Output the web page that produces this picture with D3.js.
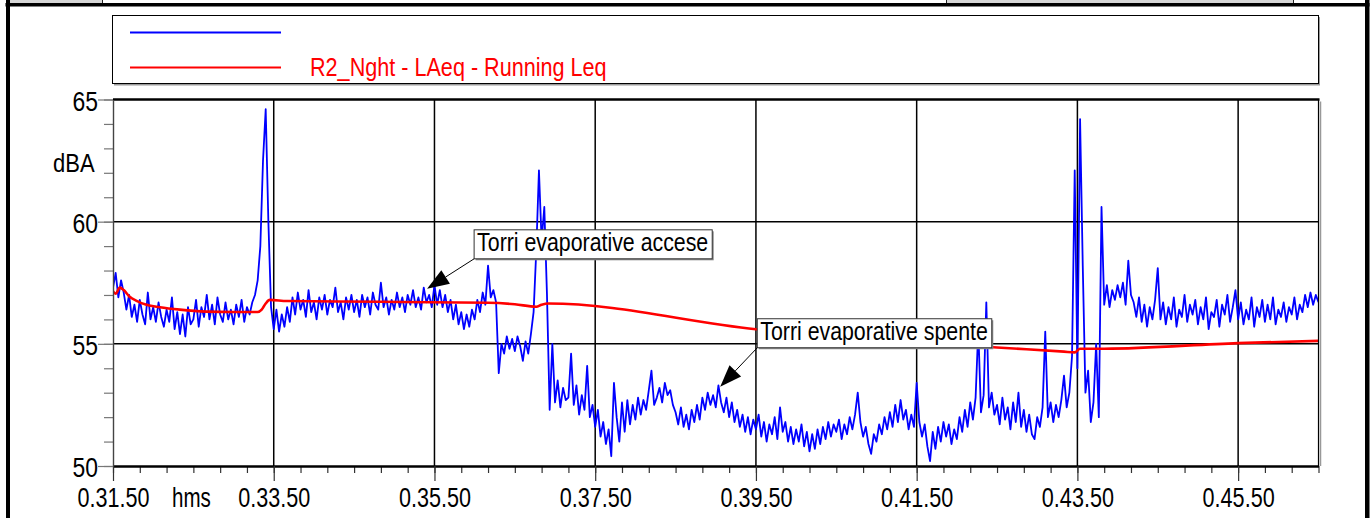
<!DOCTYPE html>
<html><head><meta charset="utf-8">
<script src="https://cdn.jsdelivr.net/npm/d3@7"></script>
<style>
html,body{margin:0;padding:0;background:#fff;overflow:hidden;}
svg{display:block;}
text{font-family:"Liberation Sans",Arial,sans-serif;}
</style></head><body>
<svg id="chart" width="1372" height="518"></svg>
<script>
// ---------------- DATA ----------------
// time axis in seconds of day: 0.31.50 -> 0.46.50
const xStart = 1910, xEnd = 2810;
const xTickValues = [1910, 2030, 2150, 2270, 2390, 2510, 2630, 2750];
const xTickLabels = ["0.31.50", "0.33.50", "0.35.50", "0.37.50", "0.39.50", "0.41.50", "0.43.50", "0.45.50"];
const xUnitLabel = "hms";
const yTickValues = [50, 55, 60, 65];
const yTickLabels = ["50", "55", "60", "65"];
const yUnitLabel = "dBA";
const seriesNames = ["", "R2_Nght - LAeq - Running Leq"];

// blue series: LAeq short samples, one value every 2 s starting at xStart
const blueStep = 2;
const blueValues = [
  // 0.31.50
  57.3,57.9,56.9,57.6,57.1,56.4,57.0,56.1,56.6,55.9,56.8,56.2,55.8,57.1,56.0,56.5,55.9,56.7,56.1,55.7,56.4,55.9,56.9,55.6,56.3,55.4,56.2,55.3,56.5,55.8,
  // 0.32.50
  56.0,56.8,55.7,56.5,56.1,57.0,56.0,56.6,55.8,56.9,56.2,55.9,56.7,56.0,56.4,55.8,56.6,56.1,56.8,55.9,56.5,56.2,56.7,57.0,57.6,59.0,62.5,64.6,60.0,56.5,
  // 0.33.50
  55.6,56.4,55.5,56.2,55.7,56.5,55.9,56.9,56.2,57.1,56.4,56.8,56.1,57.2,56.3,56.7,56.0,56.9,56.4,57.0,56.2,56.8,56.5,57.3,56.3,56.7,56.0,56.9,56.4,57.0,
  // 0.34.50
  56.3,56.8,56.1,57.0,56.5,56.9,56.2,57.1,56.6,56.4,57.5,56.5,56.9,56.2,56.8,56.4,57.1,56.5,56.9,56.3,57.0,56.6,57.2,56.5,56.9,56.4,57.3,56.7,57.0,56.5,
  // 0.35.50
  57.4,56.6,57.2,56.5,57.0,56.3,56.8,56.0,56.6,55.8,56.3,55.6,56.2,55.7,56.4,56.0,56.8,56.3,57.1,56.6,58.2,56.9,57.2,56.7,53.8,55.0,54.6,55.3,54.8,55.2,
  // 0.36.50
  54.7,55.3,54.9,54.3,55.1,54.6,55.4,56.3,58.8,62.1,59.2,60.6,57.0,52.3,55.0,52.6,53.5,52.4,53.2,52.7,52.8,54.6,52.5,53.3,52.1,52.9,52.3,54.1,52.0,52.5,
  // 0.37.50
  51.6,52.3,51.2,51.8,50.9,51.5,50.4,53.4,52.0,51.0,52.6,51.4,52.7,51.7,52.5,51.9,52.8,52.1,52.7,52.3,53.1,53.9,52.5,52.8,53.2,52.6,53.4,52.9,53.1,52.5,
  // 0.38.50
  52.2,51.7,52.4,51.6,52.1,51.5,52.3,51.8,52.5,51.9,52.8,52.3,53.0,52.5,52.9,52.4,53.3,52.6,52.2,52.8,52.0,52.6,51.8,52.3,51.6,52.1,51.4,52.0,51.3,51.9,
  // 0.39.50
  51.5,52.1,51.2,51.8,51.0,51.7,51.3,52.0,51.1,52.4,51.4,51.8,51.0,51.6,50.9,51.5,51.0,51.7,50.8,51.4,50.6,51.3,50.7,51.5,50.9,51.6,51.1,51.8,51.2,51.7,
  // 0.40.50
  51.4,51.9,51.1,51.7,51.3,52.0,51.5,52.1,53.0,51.8,51.2,51.6,50.9,50.5,51.3,51.0,51.7,51.3,52.0,51.5,52.2,51.6,52.5,51.8,52.7,51.9,52.3,51.5,52.1,51.6,
  // 0.41.50
  53.4,51.8,51.2,51.7,50.8,50.2,51.4,50.7,51.6,51.0,51.8,51.2,51.7,50.9,51.5,51.1,52.0,51.4,52.3,51.6,52.6,51.9,52.8,55.6,52.2,52.9,56.7,52.4,53.0,52.1,
  // 0.42.50
  52.5,51.7,52.8,51.9,52.4,51.5,52.6,51.8,53.0,51.6,52.3,51.4,52.1,51.3,51.1,52.0,51.6,52.4,55.5,52.0,52.6,51.8,52.5,52.0,52.7,53.7,52.4,53.0,54.5,62.1,
  // 0.43.50
  54.0,64.2,58.2,53.0,53.9,51.8,52.6,55.0,52.0,60.6,56.6,57.4,56.5,57.2,56.8,57.4,56.9,57.5,56.6,58.4,57.0,56.7,56.1,56.9,55.9,56.6,55.7,56.5,56.0,56.8,
  // 0.44.50
  58.1,56.0,56.7,55.8,56.5,56.0,56.9,55.7,56.4,56.1,57.0,55.9,56.6,56.2,56.8,55.8,56.5,56.0,56.9,55.6,56.3,56.1,56.8,55.7,56.6,56.2,57.0,55.9,56.5,57.2,
  // 0.45.50
  56.0,56.7,55.8,56.4,56.0,56.9,55.7,56.5,56.1,56.8,55.9,56.6,56.0,56.9,55.8,56.4,56.1,56.7,55.9,56.5,56.2,56.9,56.0,56.6,56.3,57.0,56.5,57.1,56.6,57.0,
  // 0.46.50
  56.7
];

// red series: running Leq (time in seconds of day, value in dBA)
const redTimes = [1910,1912,1915,1918,1922,1928,1935,1945,1960,1980,2000,2018,2021,2024,2027,2040,2110,2190,2210,2226,2230,2235,2390,2570,2620,2628,2632,2650,2750,2810];
const redValues = [57.15,57.05,57.3,57.2,56.95,56.75,56.6,56.5,56.4,56.32,56.3,56.3,56.4,56.65,56.8,56.75,56.72,56.68,56.62,56.52,56.6,56.65,55.6,54.85,54.68,54.65,54.8,54.8,55.03,55.12];

// annotations: text, arrow tip (time, dBA), label box bottom-left anchor (time, dBA)
const annoTexts = ["Torri evaporative accese", "Torri evaporative spente"];
const annoTipT = [2144.5, 2363.3];
const annoTipV = [57.25, 53.24];
const annoBoxT = [2179.6, 2391];
const annoBoxV = [58.48, 54.84];

// ---------------- DRAWING ----------------
const svg = d3.select("#chart");
const L = 113, R = 1318.5, T = 99.5, B = 466;
const x = d3.scaleLinear().domain([xStart, xEnd]).range([L, R]);
const y = d3.scaleLinear().domain([50, 65]).range([B, T]);
const SQ = 0.8;
function squeeze(sel, f) {
  sel.each(function () {
    const n = this.getComputedTextLength();
    if (n > 0) {
      this.setAttribute("textLength", (n * f).toFixed(1));
      this.setAttribute("lengthAdjust", "spacingAndGlyphs");
    }
  });
}

svg.append("rect").attr("width", 1372).attr("height", 518).attr("fill", "#fff");

// top strip (partial cells of an enclosing table)
svg.append("rect").attr("x", 10).attr("y", 0).attr("width", 92).attr("height", 3.5).attr("fill", "#d6d6d6");
svg.append("line").attr("x1", 102.5).attr("x2", 102.5).attr("y1", 0).attr("y2", 4).attr("stroke", "#222").attr("stroke-width", 1);
svg.append("rect").attr("x", 946).attr("y", 0).attr("width", 347).attr("height", 3.5).attr("fill", "#d6d6d6");
svg.append("line").attr("x1", 946.5).attr("x2", 946.5).attr("y1", 0).attr("y2", 4).attr("stroke", "#222").attr("stroke-width", 1);
svg.append("line").attr("x1", 1293.5).attr("x2", 1293.5).attr("y1", 0).attr("y2", 4).attr("stroke", "#222").attr("stroke-width", 1);

// outer frame
svg.append("rect").attr("x", 5.5).attr("y", 3).attr("width", 1364).attr("height", 3.5).attr("fill", "#000");
svg.append("rect").attr("x", 6).attr("y", 0).attr("width", 4).attr("height", 518).attr("fill", "#000");
svg.append("rect").attr("x", 1365).attr("y", 0).attr("width", 4.5).attr("height", 518).attr("fill", "#000");

// legend box
svg.append("rect").attr("x", 114).attr("y", 17).attr("width", 1206).attr("height", 68.5).attr("fill", "#9a9a9a");
svg.append("rect").attr("x", 112.5).attr("y", 15.5).attr("width", 1206).attr("height", 68)
  .attr("fill", "#fff").attr("stroke", "#000").attr("stroke-width", 1);
const legColors = ["#0000ff", "#ff0000"];
const legY = [32.5, 67.5];
seriesNames.forEach((name, i) => {
  svg.append("line").attr("x1", 130).attr("x2", 281).attr("y1", legY[i]).attr("y2", legY[i])
    .attr("stroke", legColors[i]).attr("stroke-width", 2);
  if (name) {
    svg.append("text").attr("x", 310).attr("y", legY[i] + 8).attr("font-size", 26.5)
      .attr("fill", legColors[i]).text(name).call(squeeze, 0.815);
  }
});

// plot area shadow
svg.append("line").attr("x1", R + 2).attr("x2", R + 2).attr("y1", T + 2).attr("y2", B).attr("stroke", "#999").attr("stroke-width", 1.5);

// grid
const grid = svg.append("g");
grid.selectAll(".vg").data(xTickValues.slice(1)).enter().append("line")
  .attr("x1", d => x(d)).attr("x2", d => x(d)).attr("y1", T).attr("y2", B)
  .attr("stroke", "#000").attr("stroke-width", 1.5);
grid.selectAll(".hg").data([55, 60]).enter().append("line")
  .attr("x1", L).attr("x2", R).attr("y1", d => y(d)).attr("y2", d => y(d))
  .attr("stroke", "#000").attr("stroke-width", 1.5);

// clip
svg.append("clipPath").attr("id", "clip").append("rect")
  .attr("x", L).attr("y", T).attr("width", R - L).attr("height", B - T);

// blue series
const blueLine = d3.line().x((d, i) => x(xStart + i * blueStep)).y(d => y(d));
svg.append("path").datum(blueValues).attr("clip-path", "url(#clip)")
  .attr("d", blueLine).attr("fill", "none").attr("stroke", "#0000ff")
  .attr("stroke-width", 1.8).attr("stroke-linejoin", "round");

// red series
const redLine = d3.line().x((d, i) => x(redTimes[i])).y(d => y(d)).curve(d3.curveMonotoneX);
svg.append("path").datum(redValues).attr("clip-path", "url(#clip)")
  .attr("d", redLine).attr("fill", "none").attr("stroke", "#ff0000")
  .attr("stroke-width", 2.6).attr("stroke-linejoin", "round");

// plot frame top / right
svg.append("line").attr("x1", L).attr("x2", R + 1).attr("y1", T).attr("y2", T).attr("stroke", "#000").attr("stroke-width", 2.5);
svg.append("line").attr("x1", R).attr("x2", R).attr("y1", T).attr("y2", B).attr("stroke", "#000").attr("stroke-width", 1.2);

// x axis
const gxMinor = svg.append("g").attr("transform", `translate(0,${B})`)
  .call(d3.axisBottom(x).tickValues(d3.range(xStart, xEnd + 1, 20)).tickSize(7).tickSizeOuter(0).tickFormat(""));
gxMinor.select(".domain").remove();
gxMinor.selectAll("line").attr("stroke", "#333").attr("stroke-width", 1.2);

const gx = svg.append("g").attr("transform", `translate(0,${B})`)
  .call(d3.axisBottom(x).tickValues(xTickValues).tickSize(15).tickSizeOuter(0)
    .tickFormat((d, i) => xTickLabels[i]));
gx.select(".domain").attr("stroke", "#000").attr("stroke-width", 2.5);
gx.selectAll(".tick line").attr("stroke", "#333").attr("stroke-width", 1.2);
gx.selectAll(".tick text").attr("y", 41).attr("dy", 0).attr("font-size", 27)
  .attr("font-family", '"Liberation Sans", Arial, sans-serif').attr("fill", "#000").call(squeeze, SQ);
svg.append("text").attr("x", 172).attr("y", B + 41).attr("font-size", 27).attr("fill", "#000")
  .text(xUnitLabel).call(squeeze, 0.76);

// y axis
const gyMinor = svg.append("g").attr("transform", `translate(${L},0)`)
  .call(d3.axisLeft(y).tickValues(d3.range(50, 66, 1)).tickSize(9).tickSizeOuter(0).tickFormat(""));
gyMinor.select(".domain").remove();
gyMinor.selectAll("line").attr("stroke", "#777").attr("stroke-width", 1.2);
const gy = svg.append("g").attr("transform", `translate(${L},0)`)
  .call(d3.axisLeft(y).tickValues(yTickValues).tickSize(15).tickSizeOuter(0)
    .tickFormat((d, i) => yTickLabels[i]));
gy.select(".domain").attr("stroke", "#444").attr("stroke-width", 1.4);
gy.selectAll(".tick line").attr("stroke", "#777").attr("stroke-width", 1.2);
gy.selectAll(".tick text").attr("x", -15).attr("y", 10.5).attr("dy", 0).attr("font-size", 28)
  .attr("font-family", '"Liberation Sans", Arial, sans-serif').attr("fill", "#000")
  .attr("text-anchor", "end").call(squeeze, 0.82);
svg.append("text").attr("x", 53).attr("y", 172).attr("font-size", 25).attr("fill", "#000")
  .text(yUnitLabel).call(squeeze, 0.88);

// annotations
annoTexts.forEach((txt, i) => {
  const g = svg.append("g");
  const bx = x(annoBoxT[i]), by = y(annoBoxV[i]);
  const tx = x(annoTipT[i]), ty = y(annoTipV[i]);
  const t = g.append("text").attr("x", bx + 3).attr("y", by - 8).attr("font-size", 26).attr("fill", "#000").text(txt);
  t.call(squeeze, 0.82);
  const w = +t.attr("textLength") + 7;
  g.insert("rect", "text").attr("x", bx + 1.5).attr("y", by - 29 + 1.5).attr("width", w).attr("height", 29).attr("fill", "#8a8a8a");
  g.insert("rect", "text").attr("x", bx).attr("y", by - 29).attr("width", w).attr("height", 29)
    .attr("fill", "#fff").attr("stroke", "#333").attr("stroke-width", 1);
  // arrow
  const dx = tx - bx, dy = ty - by, len = Math.hypot(dx, dy);
  const ux = dx / len, uy = dy / len, nx = -uy, ny = ux;
  const hl = 22, hw = 8;
  const cx = tx - ux * hl, cy = ty - uy * hl;
  g.append("line").attr("x1", bx).attr("y1", by).attr("x2", cx).attr("y2", cy).attr("stroke", "#000").attr("stroke-width", 1);
  g.append("path").attr("d", `M${tx},${ty}L${cx + nx * hw},${cy + ny * hw}L${cx - nx * hw},${cy - ny * hw}Z`).attr("fill", "#000");
});
</script>
</body></html>
